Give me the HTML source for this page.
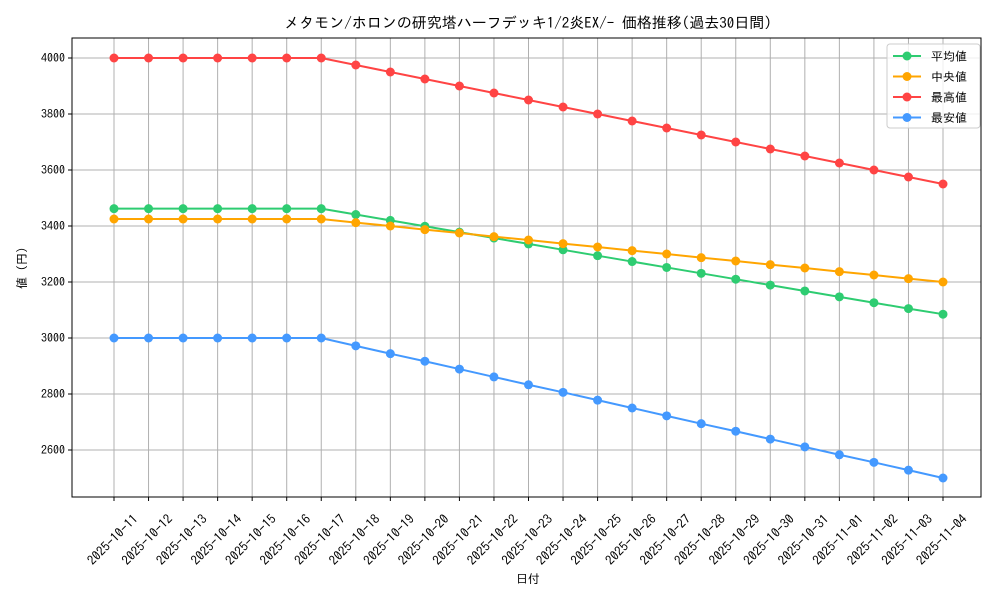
<!DOCTYPE html>
<html><head><meta charset="utf-8"><style>
html,body{margin:0;padding:0;background:#fff;}
svg{display:block;font-family:"IPAGothic","Noto Sans CJK JP","DejaVu Sans Mono",monospace;}
</style></head><body>
<svg id="chart" width="1000" height="600"></svg>
<script>
const categories=["2025-10-11","2025-10-12","2025-10-13","2025-10-14","2025-10-15","2025-10-16","2025-10-17","2025-10-18","2025-10-19","2025-10-20","2025-10-21","2025-10-22","2025-10-23","2025-10-24","2025-10-25","2025-10-26","2025-10-27","2025-10-28","2025-10-29","2025-10-30","2025-10-31","2025-11-01","2025-11-02","2025-11-03","2025-11-04"];
const avgValues=[3462,3462,3462,3462,3462,3462,3462,3441,3420,3399,3378,3357,3336,3315,3294,3273,3252,3231,3210,3189,3168,3147,3126,3105,3085];
const medianValues=[3425,3425,3425,3425,3425,3425,3425,3412,3400,3387,3375,3362,3350,3337,3325,3312,3300,3287,3275,3262,3250,3237,3225,3212,3200];
const maxValues=[4000,4000,4000,4000,4000,4000,4000,3975,3950,3925,3900,3875,3850,3825,3800,3775,3750,3725,3700,3675,3650,3625,3600,3575,3550];
const minValues=[3000,3000,3000,3000,3000,3000,3000,2972,2944,2917,2889,2861,2833,2806,2778,2750,2722,2694,2667,2639,2611,2583,2556,2528,2500];
const yTicks=[2600,2800,3000,3200,3400,3600,3800,4000];
const seriesNames=["平均値","中央値","最高値","最安値"];
const seriesColors=["#2ecc71","#ffa500","#ff4444","#4499ff"];
const seriesKeys=["average","median","max","min"];

const svg=document.getElementById('chart');
const NS="http://www.w3.org/2000/svg";
const L=72,R=981,T=38,B=497;
function xs(i){return 114+i*(943-114)/(categories.length-1);}
function ys(v){return 58+(4000-v)*(450-58)/1400;}
function mk(tag,attrs,parent){const e=document.createElementNS(NS,tag);for(const k in attrs)e.setAttribute(k,attrs[k]);(parent||svg).appendChild(e);return e;}

const grid=mk('g',{});


categories.forEach((c,i)=>{mk('line',{x1:xs(i),x2:xs(i),y1:T,y2:B,stroke:'#b0b0b0','stroke-width':1},grid);});
yTicks.forEach(v=>{mk('line',{x1:L,x2:R,y1:ys(v),y2:ys(v),stroke:'#b0b0b0','stroke-width':1},grid);});

const frame=mk('rect',{x:L,y:T,width:R-L,height:B-T,fill:'none',stroke:'#000','stroke-width':1});



const xa=mk('g',{});


categories.forEach((c,i)=>{
  mk('line',{x1:xs(i),x2:xs(i),y1:B,y2:B+4,stroke:'#000'},xa);
  const cx=xs(i)-1, cy=540;
  const t=mk('text',{x:cx,y:cy+4,'font-size':13,'text-anchor':'middle',transform:`rotate(-45 ${cx} ${cy})`},xa);
  t.textContent=c;
  
  
});
const ya=mk('g',{});


yTicks.forEach(v=>{
  mk('line',{x1:L-4,x2:L,y1:ys(v),y2:ys(v),stroke:'#000'},ya);
  const t=mk('text',{x:L-7,y:ys(v)+4,'font-size':12,'text-anchor':'end'},ya);
  t.textContent=v;
  
  
});

const data=[avgValues,medianValues,maxValues,minValues];
data.forEach((vals,s)=>{
  const g=mk('g',{});
  
  
  mk('polyline',{points:vals.map((v,i)=>xs(i)+','+ys(v)).join(' '),fill:'none',stroke:seriesColors[s],'stroke-width':2},g);
  vals.forEach((v,i)=>{
    const c=mk('circle',{cx:xs(i),cy:ys(v),r:4.5,fill:seriesColors[s]},g);
    
    
  });
});

const title=mk('text',{x:528,y:28,'font-size':15,'text-anchor':'middle'});
title.textContent="メタモン/ホロンの研究塔ハーフデッキ1/2炎EX/- 価格推移(過去30日間)";


const xt=mk('text',{x:528,y:583,'font-size':12,'text-anchor':'middle'});
xt.textContent="日付";


const yt=mk('text',{x:26,y:268,'font-size':12,'text-anchor':'middle',transform:'rotate(-90 26 268)'});
yt.textContent="値 (円)";



const lg=mk('g',{});


mk('rect',{x:887,y:44,width:93,height:84,rx:3,fill:'#fff','fill-opacity':0.8,stroke:'#ccc'},lg);
seriesNames.forEach((n,s)=>{
  const y=56+s*20.5;
  const e=mk('g',{},lg);
  
  
  mk('line',{x1:893,x2:921,y1:y,y2:y,stroke:seriesColors[s],'stroke-width':2},e);
  mk('circle',{cx:907,cy:y,r:4.5,fill:seriesColors[s]},e);
  const t=mk('text',{x:931,y:y+4.5,'font-size':12},e);
  t.textContent=n;
});
</script>
</body></html>
